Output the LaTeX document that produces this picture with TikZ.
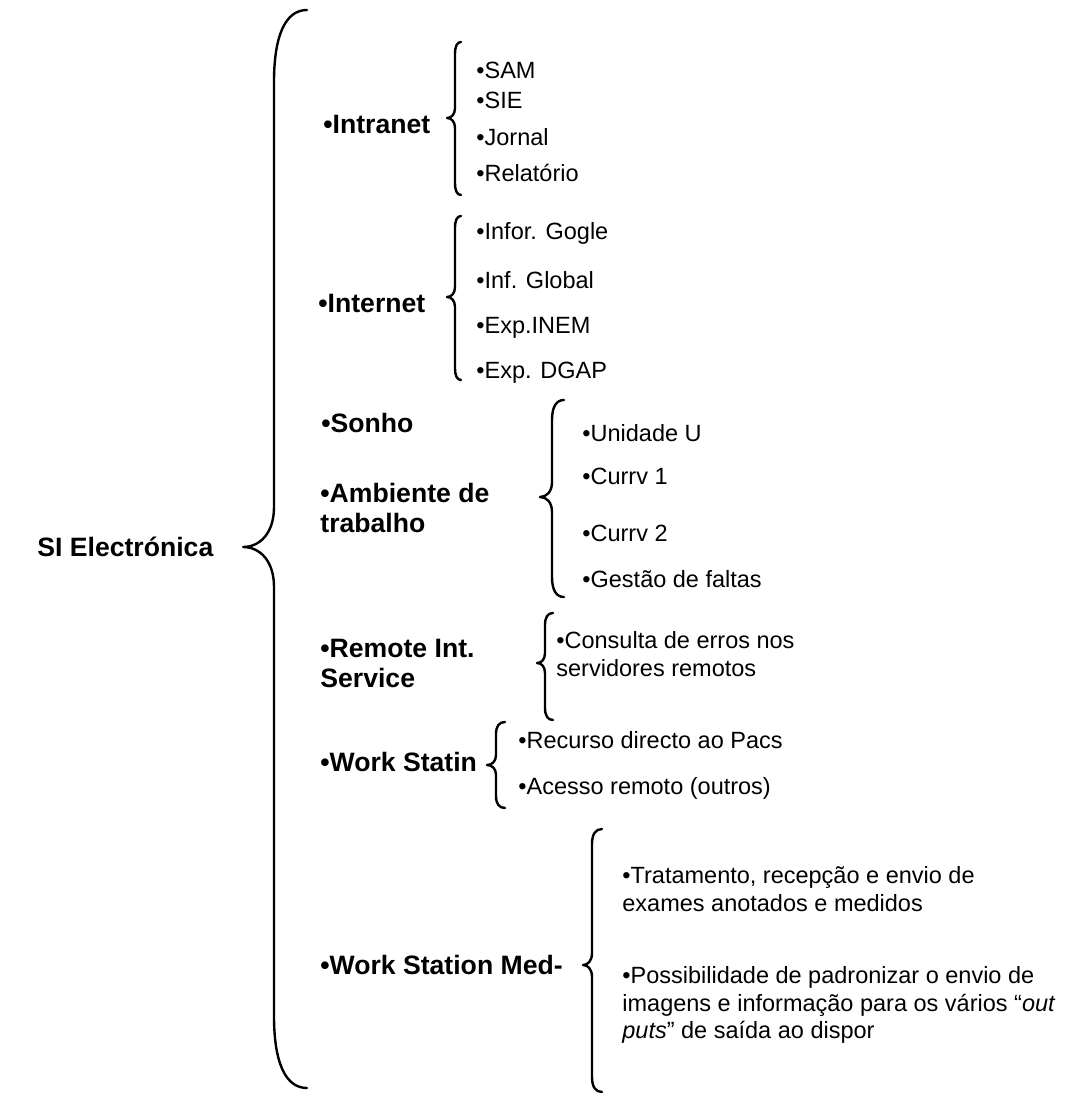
\documentclass[tikz,border=0pt]{standalone}
\usepackage{fontspec}
\setmainfont{Liberation Sans}
% curly brace: x of spine, y top, y tip, y bottom, end hook dx, tip dx, end radius, tip radius
\newcommand{\curlybr}[8]{%
  \draw[brace] ({#1+#5},#2) .. controls ({#1+#5*0.35},#2) and (#1,{#2+#7*0.35}) .. (#1,{#2+#7})
    -- (#1,{#3-#8}) .. controls (#1,{#3-#8*0.35}) and ({#1-#6*0.45},#3) .. ({#1-#6},#3)
    .. controls ({#1-#6*0.45},#3) and (#1,{#3+#8*0.35}) .. (#1,{#3+#8})
    -- (#1,{#4-#7}) .. controls (#1,{#4-#7*0.35}) and ({#1+#5*0.35},#4) .. ({#1+#5},#4);}
\begin{document}
\begin{tikzpicture}[x=0.5pt,y=-0.5pt,
  head/.style={font=\fontsize{13.3}{15}\selectfont\bfseries, anchor=west, inner sep=0pt, align=left},
  item/.style={font=\fontsize{11.75}{13.6}\selectfont, anchor=west, inner sep=0pt, align=left},
  brace/.style={line width=1.2pt, line cap=round, line join=round},
  bigbrace/.style={brace, line width=1.5pt}]
\useasboundingbox (0,0) rectangle (1084,1096);

% root
\node[head] (root) at (37,547) {SI Electrónica};
\curlybr{274}{10}{547}{1088}{33}{31}{72}{40}

% first level
\node[head] (intranet) at (323,124) {•Intranet};
\node[head] (internet) at (318,303) {•Internet};
\node[head] (sonho)    at (321,423) {•Sonho};
\node[head] (ambiente) at (320,508) {•Ambiente de\\trabalho};
\node[head] (remote)   at (320,663) {•Remote Int.\\Service};
\node[head] (wstatin)  at (320,762) {•Work Statin};
\node[head] (wsmed)    at (320,965) {•Work Station Med-};

% Intranet
\curlybr{455}{42}{118}{195}{6}{8}{12}{10}
\node[item] (sam)  at (476,70)  {•SAM};
\node[item] (sie)  at (476,100) {•SIE};
\node[item] (jor)  at (476,137) {•Jornal};
\node[item] (rel)  at (476,173) {•Relatório};

% Internet
\curlybr{455}{216}{297}{380}{6}{8}{12}{10}
\node[item] (gog)  at (476,233) {•Infor. Gogle};
\node[item] (glo)  at (476,280) {•Inf. Global};
\node[item] (inem) at (476,328) {•Exp.INEM};
\node[item] (dgap) at (476,373) {•Exp. DGAP};

% Ambiente de trabalho
\curlybr{552}{400}{497}{597}{12}{12}{20}{15}
\node[item] (uni)  at (582,433) {•Unidade U};
\node[item] (cv1)  at (582,476) {•Currv 1};
\node[item] (cv2)  at (582,533) {•Currv 2};
\node[item] (gest) at (582,579) {•Gestão de faltas};

% Remote Int. Service
\curlybr{545}{613}{663}{720}{8}{8}{12}{10}
\node[item] (cons) at (556,654) {•Consulta de erros nos\\servidores remotos};

% Work Statin
\curlybr{496}{722}{765}{808}{9}{9}{12}{10}
\node[item] (pacs) at (518,740) {•Recurso directo ao Pacs};
\node[item] (aces) at (518,788) {•Acesso remoto (outros)};

% Work Station Med-
\curlybr{592}{829}{965}{1092}{10}{9}{15}{12}
\node[item] (trat) at (622,889) {•Tratamento, recepção e envio de\\exames anotados e medidos};
\node[item] (poss) at (622,1005) {•Possibilidade de padronizar o envio de\\imagens e informação para os vários “\textit{out}\\\textit{puts}” de saída ao dispor};
\end{tikzpicture}
\end{document}
